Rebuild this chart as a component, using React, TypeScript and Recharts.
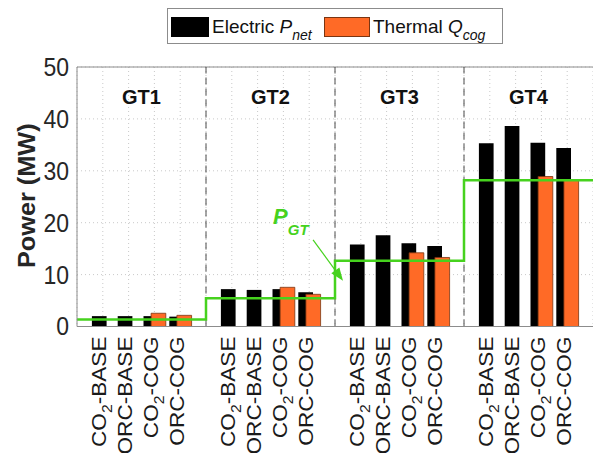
import {Bar, CartesianGrid, ComposedChart, Line, ReferenceLine, XAxis, YAxis} from 'recharts';

const groups = ['GT1', 'GT2', 'GT3', 'GT4'];
const configs = ['CO2-BASE', 'ORC-BASE', 'CO2-COG', 'ORC-COG'];
// MW, one value per group x config
const electricPnet = [2.0, 2.0, 2.0, 1.9, 7.2, 7.05, 7.2, 6.6, 15.8, 17.6, 16.05, 15.5, 35.3, 38.65, 35.4, 34.4];
const thermalQcog = [null, null, 2.55, 2.15, null, null, 7.55, 6.2, null, null, 14.2, 13.3, null, null, 28.9, 28.3];
const gasTurbinePower = [1.35, 5.45, 12.65, 28.2];
const yTicks = [0, 10, 20, 30, 40, 50];

const FONT = '"Liberation Sans", Arial, sans-serif';
const GREEN = '#46d21e';
const ORANGE = '#ff6a26';

const rows = groups.flatMap((g, gi) => {
  const bars = configs.map((c, ci) => ({
    key: `${g} ${c}`,
    pnet: electricPnet[gi * configs.length + ci],
    qcog: thermalQcog[gi * configs.length + ci],
  }));
  return gi < groups.length - 1 ? [...bars, {key: `gap${gi}`, pnet: null, qcog: null}] : bars;
});

// step axis: each group spans configs + 1 slots
const slot = configs.length + 1;
const stepData = gasTurbinePower.flatMap((p, gi) => [
  {x: gi * slot, y: p},
  {x: (gi + 1) * slot, y: p},
]);

function ConfigTick({x, y, payload}: any) {
  const value: string = payload.value;
  if (value.startsWith('gap')) return null;
  const label = value.split(' ')[1];
  const co2 = label.startsWith('CO2');
  return (
    <text
      transform={`translate(${x - 3},${y - 1}) rotate(-90) scale(1.13,1)`}
      textAnchor="end"
      dominantBaseline="central"
      fontSize={20}
      fill="#1a1a1a"
      fontFamily={FONT}
    >
      {co2 ? (
        <>
          CO<tspan dy={7} fontSize={14}>2</tspan>
          <tspan dy={-7}>{label.slice(3)}</tspan>
        </>
      ) : (
        label
      )}
    </text>
  );
}

function PowerTick({x, y, payload}: any) {
  return (
    <text
      transform={`translate(${x},${y}) scale(1,1.12)`}
      textAnchor="end"
      dominantBaseline="central"
      fontSize={23}
      fill="#262626"
      fontFamily={FONT}
    >
      {payload.value}
    </text>
  );
}

function AxisTitle({viewBox}: any) {
  const cx = viewBox.x + 10;
  const cy = viewBox.y + viewBox.height / 2 - 1;
  return (
    <text
      transform={`translate(${cx},${cy}) rotate(-90) scale(1.1,1)`}
      textAnchor="middle"
      dominantBaseline="central"
      fontSize={23}
      fontWeight="bold"
      fill="#262626"
      fontFamily={FONT}
    >
      Power (MW)
    </text>
  );
}

function GroupLabel({viewBox, text}: any) {
  return (
    <text x={viewBox.x} y={viewBox.y + 30} textAnchor="middle" dominantBaseline="central" fontSize={20} fontWeight="bold" fill="#111" fontFamily={FONT}>
      {text}
    </text>
  );
}

function Arrow({x1, y1, x2, y2}: any) {
  const dx = x2 - x1;
  const dy = y2 - y1;
  const len = Math.hypot(dx, dy);
  const ux = dx / len;
  const uy = dy / len;
  const bx = x2 - ux * 13;
  const by = y2 - uy * 13;
  return (
    <g>
      <line x1={x1} y1={y1} x2={bx} y2={by} stroke={GREEN} strokeWidth={1.2} />
      <polygon points={`${x2},${y2} ${bx - uy * 5},${by + ux * 5} ${bx + uy * 5},${by - ux * 5}`} fill={GREEN} />
      <text x={x1 - 40} y={y1 - 16} fill={GREEN} fontSize={22} fontWeight="bold" fontStyle="italic" fontFamily={FONT}>
        P<tspan dy={11} fontSize={15}>GT</tspan>
      </text>
    </g>
  );
}

export default function App() {
  return (
    <div style={{position: 'absolute', left: 0, top: 0, width: 593, height: 453, background: '#fff'}}>
      <ComposedChart width={593} height={453} data={rows} margin={{top: 67, right: 0, bottom: 6.5, left: 17}} barGap={-7.1}>
        <CartesianGrid stroke="#c9c9c9" strokeDasharray="1 3" />
        <XAxis
          dataKey="key"
          type="category"
          interval={0}
          height={120}
          padding={{left: 12.9, right: 12.9}}
          tick={<ConfigTick />}
          tickLine={false}
          tickSize={0}
          tickMargin={11}
          axisLine={{stroke: '#8c8c8c'}}
        />
        <XAxis xAxisId="n" dataKey="x" type="number" domain={[0, groups.length * slot]} hide allowDataOverflow />
        <YAxis
          domain={[0, 50]}
          ticks={yTicks}
          width={60}
          tick={<PowerTick />}
          tickLine={false}
          tickSize={0}
          tickMargin={8}
          axisLine={{stroke: '#8c8c8c'}}
          label={<AxisTitle />}
        />
        <ReferenceLine y={50} stroke="#8c8c8c" />
        {groups.slice(1).map((g, gi) => (
          <ReferenceLine key={g} xAxisId="n" x={(gi + 1) * slot} stroke="#4a4a4a" strokeDasharray="7 4" />
        ))}
        {groups.map((g, gi) => (
          <ReferenceLine key={`l${g}`} xAxisId="n" x={gi * slot + slot / 2} stroke="none" label={<GroupLabel text={g} />} />
        ))}
        <Bar dataKey="pnet" fill="#000" barSize={14.7} isAnimationActive={false} />
        <Bar dataKey="qcog" fill={ORANGE} stroke="#7a3512" strokeWidth={0.8} barSize={14.7} isAnimationActive={false} />
        <Line
          xAxisId="n"
          data={stepData}
          dataKey="y"
          type="linear"
          stroke={GREEN}
          strokeWidth={2.5}
          dot={false}
          isAnimationActive={false}
        />
        <ReferenceLine
          xAxisId="n"
          segment={[{x: 9.15, y: 16.7}, {x: 10.31, y: 8.8}]}
          shape={(p: any) => <Arrow {...p} />}
        />
      </ComposedChart>
      <svg width={593} height={50} style={{position: 'absolute', left: 0, top: 0}}>
        <rect x={167.5} y={8.5} width={335} height={35} fill="#fff" stroke="#8c8c8c" />
        <rect x={171} y={17} width={38} height={20} fill="#000" />
        <text x={212} y={33} fontSize={19} fill="#111" fontFamily={FONT}>
          Electric <tspan fontStyle="italic">P</tspan>
          <tspan fontStyle="italic" fontSize={14} dy={7}>net</tspan>
        </text>
        <rect x={324.5} y={17.5} width={45} height={19} fill={ORANGE} stroke="#7a3512" />
        <text x={373} y={33} fontSize={19} fill="#111" fontFamily={FONT}>
          Thermal <tspan fontStyle="italic">Q</tspan>
          <tspan fontStyle="italic" fontSize={14} dy={7}>cog</tspan>
        </text>
      </svg>
    </div>
  );
}
